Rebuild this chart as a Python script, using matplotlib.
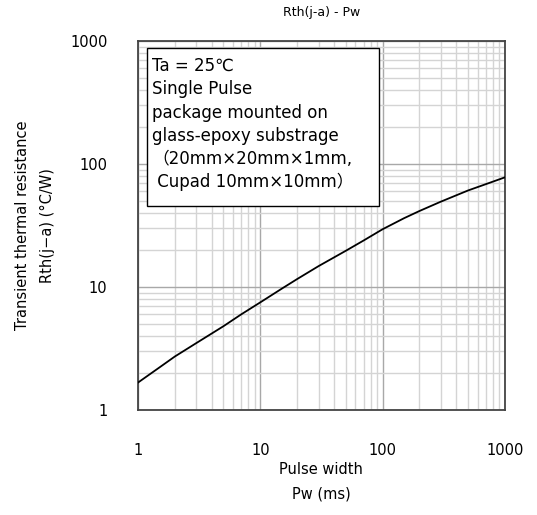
import numpy as np
import matplotlib
matplotlib.use("Agg")
import matplotlib.pyplot as plt
from matplotlib.patches import Rectangle

plt.rcParams['font.family'] = ['DejaVu Sans', 'Noto Sans CJK JP']

# Rth(j-a) curve
pulse_ms = [1, 1.5, 2, 3, 5, 7, 10, 15, 20, 30, 50, 70, 100, 150, 200, 300, 500, 700, 1000]
rth = [1.67, 2.22, 2.72, 3.5, 4.8, 6.0, 7.5, 9.7, 11.6, 14.8, 19.7, 23.9, 29.5,
       36.3, 41.5, 49.5, 61, 68.7, 78]

x_ticks = [1, 10, 100, 1000]
y_ticks = [1, 10, 100, 1000]

info_lines = ["Ta = 25℃", "Single Pulse", "package mounted on",
              "glass-epoxy substrage", "（20mm×20mm×1mm,", " Cupad 10mm×10mm）"]

fig = plt.figure(figsize=(5.37, 5.15), dpi=100)
ax = fig.add_axes([0.257, 0.204, 0.683, 0.716])

ax.set_xscale('log')
ax.set_yscale('log')
ax.set_xlim(1, 1000)
ax.set_ylim(1, 1000)

ax.plot(pulse_ms, rth, color='black', lw=1.3, zorder=3)

ax.grid(which='major', color='#a8a8a8', lw=1.0)
ax.grid(which='minor', color='#d4d4d4', lw=1.0)
ax.set_axisbelow(True)

ax.set_xticks(x_ticks)
ax.set_yticks(y_ticks)
ax.set_xticklabels([str(v) for v in x_ticks])
ax.set_yticklabels([str(v) for v in y_ticks])
ax.tick_params(which='both', length=0, labelsize=10.5)
ax.tick_params(axis='x', pad=24)
ax.tick_params(axis='y', pad=22)

for s in ax.spines.values():
    s.set_color('#444444')
    s.set_linewidth(1.3)

ax.set_title("Rth(j-a) - Pw", fontsize=9, pad=18)
ax.set_xlabel("Pulse width\nPw (ms)", fontsize=10.5, labelpad=3, linespacing=1.75)
ax.set_ylabel("Transient thermal resistance\nRth(j−a) (°C/W)", fontsize=10.5,
              labelpad=11, linespacing=1.85)

# info box (pixel layout)
ax.add_patch(Rectangle((0.0245, 0.553), 0.632, 0.428, transform=ax.transAxes,
                       fc='white', ec='black', lw=1.0, zorder=4))
for i, line in enumerate(info_lines):
    y_px = 66 + 23.2 * i
    ax.text(0.038, (410 - y_px) / 369, line, transform=ax.transAxes,
            fontsize=12, va='center', ha='left', zorder=5)

fig.savefig("out.png", dpi=100)
